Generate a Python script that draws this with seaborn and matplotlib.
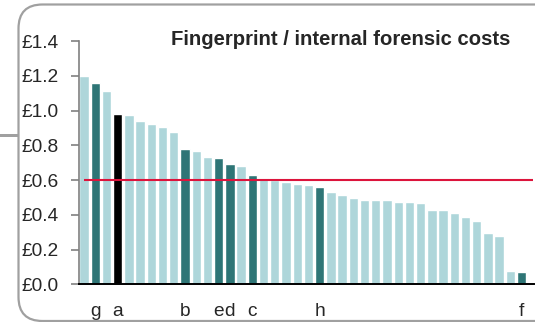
import matplotlib
matplotlib.use("Agg")
import matplotlib.pyplot as plt
import seaborn as sns
from matplotlib.patches import FancyBboxPatch, Rectangle

# Cost per bar (GBP), sorted high to low
costs = [1.20, 1.16, 1.11, 0.979, 0.975, 0.937, 0.925, 0.908, 0.875, 0.781,
         0.765, 0.735, 0.729, 0.692, 0.683, 0.631, 0.613, 0.602, 0.589, 0.575,
         0.571, 0.560, 0.529, 0.511, 0.496, 0.486, 0.486, 0.486, 0.475, 0.471,
         0.469, 0.430, 0.425, 0.411, 0.387, 0.367, 0.296, 0.279, 0.075, 0.069]
# highlighted forces and their letters
letters = {1: 'g', 3: 'a', 9: 'b', 12: 'e', 13: 'd', 15: 'c', 21: 'h', 39: 'f'}
kind = {3: 'black'}
average = 0.6

light, dark = '#AED6DA', '#2E7576'
ids = [f"f{i}" for i in range(len(costs))]
colors = {}
for i, k in enumerate(ids):
    if kind.get(i) == 'black':
        colors[k] = '#000000'
    elif i in letters:
        colors[k] = dark
    else:
        colors[k] = light
tick_labels = [letters.get(i, '') for i in range(len(costs))]

sns.set_style("white")
plt.rcParams['font.family'] = ['Liberation Sans', 'DejaVu Sans']

fig = plt.figure(figsize=(5.35, 3.22), dpi=100)
ax = fig.add_axes([79.3 / 535, 1 - 284.3 / 322, (534 - 79.3) / 535, (284.3 - 41) / 322])

sns.barplot(x=ids, y=costs, hue=ids, palette=colors, legend=False,
            width=0.84, saturation=1, ax=ax)
ax.hlines(average, 0, 40, color='#DC143C', lw=1.5, zorder=3)

ax.set_xlim(-0.42, 40.1)
ax.set_ylim(0, 1.4)
yt = [0, 0.2, 0.4, 0.6, 0.8, 1.0, 1.2, 1.4]
ax.set_yticks(yt)
ax.set_yticklabels([f"£{v:.1f}" for v in yt], fontsize=13.8)
ax.set_xticks(range(len(costs)))
ax.set_xticklabels(tick_labels, fontsize=13.8)
ax.tick_params(axis='x', length=0, pad=13.5)
ax.tick_params(axis='y', left=True, length=6, width=1.2, color='#808080', pad=9)
ax.set_xlabel('')
ax.set_ylabel('')
for s in ['top', 'right']:
    ax.spines[s].set_visible(False)
ax.spines['left'].set_color('#808080')
ax.spines['left'].set_linewidth(1.2)
ax.spines['bottom'].set_color('black')
ax.spines['bottom'].set_linewidth(1.4)

fig.text(341 / 535, 1 - 45 / 322, 'Fingerprint / internal forensic costs',
         ha='center', va='baseline', fontsize=14.6, fontweight='bold')

# slide frame around the chart
frame = FancyBboxPatch((18.5, 1.0), 560 - 18.5, 316.5, transform=None,
                       boxstyle="round,pad=0,rounding_size=24",
                       fill=False, edgecolor='#A0A0A0', lw=1.6)
fig.patches.append(frame)
stub = Rectangle((0, 322 - 137), 18, 3.5, transform=None,
                 facecolor='#A0A0A0', edgecolor='none')
fig.patches.append(stub)

fig.savefig('out.png', dpi=100)
